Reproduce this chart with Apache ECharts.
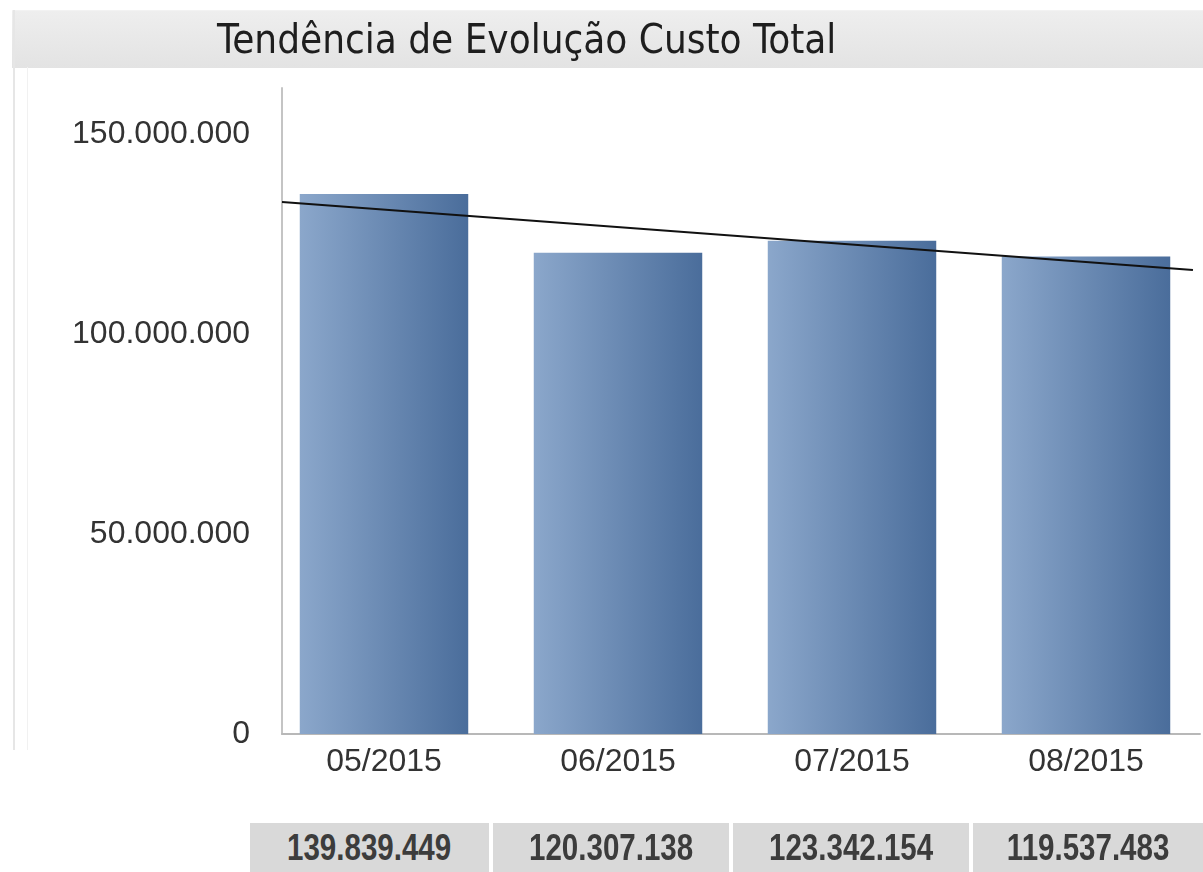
<!DOCTYPE html>
<html>
<head>
<meta charset="utf-8">
<script src="https://cdn.jsdelivr.net/npm/echarts@6/dist/echarts.min.js"></script>
<style>
  html, body { margin: 0; padding: 0; background: #ffffff; }
  #wrap { position: relative; width: 1203px; height: 872px; overflow: hidden; background: #fff; }
  #titlebar { position: absolute; left: 12px; top: 10px; width: 1191px; height: 57px;
    background: linear-gradient(#eeeeee, #e3e3e3); border-top: 1px solid #f2f2f2; }
  #leftline { position: absolute; left: 13px; top: 10px; width: 2px; height: 740px; background: #e6e6e6; }
  #leftline2 { position: absolute; left: 27px; top: 67px; width: 1px; height: 683px; background: #f1f1f1; }
  #chart { position: absolute; left: 0; top: 0; width: 1203px; height: 872px; }
  #table { position: absolute; left: 250px; top: 823px; height: 49px; display: flex; gap: 4px; }
  #table div { background: #d9d9d9; height: 49px; line-height: 49px; text-align: center; overflow: hidden; }
  #table span { display: inline-block; transform: scale(0.82, 1);
    font-family: "Liberation Sans", Arial, sans-serif; font-weight: bold; font-size: 36px; color: #3c3c3c; }
</style>
</head>
<body>
<div id="wrap">
  <div id="titlebar"></div>
  <div id="leftline"></div>
  <div id="leftline2"></div>
  <div id="chart"></div>
  <div id="table"></div>
</div>
<script>
// ---- data ----
const titleText = 'Tendência de Evolução Custo Total';
const categories = ['05/2015', '06/2015', '07/2015', '08/2015'];
const barValues = [135000000, 120300000, 123300000, 119400000];
const tableValues = ['139.839.449', '120.307.138', '123.342.154', '119.537.483'];
const yTicks = [0, 50000000, 100000000, 150000000];

// ---- table ----
const tableWidths = [239, 236, 236, 230];
const tbl = document.getElementById('table');
tableValues.forEach((t, i) => {
  const d = document.createElement('div');
  d.style.width = tableWidths[i] + 'px';
  const s = document.createElement('span');
  s.textContent = t;
  d.appendChild(s);
  tbl.appendChild(d);
});

// ---- layout ----
const barGridLeft = 267, barGridWidth = 939;
const axisLeft = 282, axisRight = 1200;
const gridTop = 88, gridBottom = 138;
const yMax = 161500000;
const catW = barGridWidth / categories.length;
const firstCenter = barGridLeft + catW / 2;
const xMin = (axisLeft - firstCenter) / catW;
const xMax = (axisRight - firstCenter) / catW;

// least-squares trend through bar values
const n = barValues.length;
const mx = (n - 1) / 2;
const my = barValues.reduce((a, b) => a + b, 0) / n;
let sxy = 0, sxx = 0;
barValues.forEach((v, i) => { sxy += (i - mx) * (v - my); sxx += (i - mx) * (i - mx); });
const slope = sxy / sxx;
const trendAt = x => my + slope * (x - mx);
const trendEndX = xMax - 0.03;
const trendData = [[xMin, trendAt(xMin)], [trendEndX, trendAt(trendEndX)]];

function fmt(v) {
  return String(Math.round(v)).replace(/\B(?=(\d{3})+(?!\d))/g, '.');
}

const chart = echarts.init(document.getElementById('chart'));
chart.setOption({
  animation: false,
  backgroundColor: 'transparent',
  title: {
    text: titleText,
    left: 212, top: 18,
    textStyle: { fontFamily: 'DejaVu Sans Condensed', fontWeight: 'normal', fontSize: 40, color: '#1e1e1e' }
  },
  grid: [
    { left: barGridLeft, width: barGridWidth, top: gridTop, bottom: gridBottom },
    { left: axisLeft, width: axisRight - axisLeft, top: gridTop, bottom: gridBottom }
  ],
  xAxis: [
    { type: 'category', gridIndex: 0, data: categories, boundaryGap: true,
      axisLine: { show: false }, axisTick: { show: false }, splitLine: { show: false },
      axisLabel: { margin: 12, fontFamily: 'Liberation Sans', fontSize: 32, color: '#333' } },
    { type: 'value', gridIndex: 1, min: xMin, max: xMax,
      axisLine: { show: true, onZero: false, lineStyle: { color: '#b8b8b8', width: 2 } },
      axisTick: { show: false }, axisLabel: { show: false }, splitLine: { show: false } }
  ],
  yAxis: [
    { type: 'value', gridIndex: 0, min: 0, max: yMax, show: false, splitLine: { show: false } },
    { type: 'value', gridIndex: 1, min: 0, max: yMax, interval: 50000000,
      axisLine: { show: true, onZero: false, lineStyle: { color: '#c4c4c4', width: 2 } },
      axisTick: { show: false }, splitLine: { show: false },
      axisLabel: { margin: 32, showMaxLabel: false, fontFamily: 'Liberation Sans', fontSize: 32, color: '#333',
        formatter: v => yTicks.includes(v) ? fmt(v) : '' } }
  ],
  series: [
    { type: 'bar', xAxisIndex: 0, yAxisIndex: 0, data: barValues, barWidth: '72%',
      itemStyle: {
        color: new echarts.graphic.LinearGradient(0, 0, 1, 0, [
          { offset: 0, color: '#8ba7cb' },
          { offset: 1, color: '#4a6d9b' }
        ])
      } },
    { type: 'line', xAxisIndex: 1, yAxisIndex: 1, data: trendData, symbol: 'none',
      lineStyle: { color: '#111', width: 2 } }
  ]
});
</script>
</body>
</html>
